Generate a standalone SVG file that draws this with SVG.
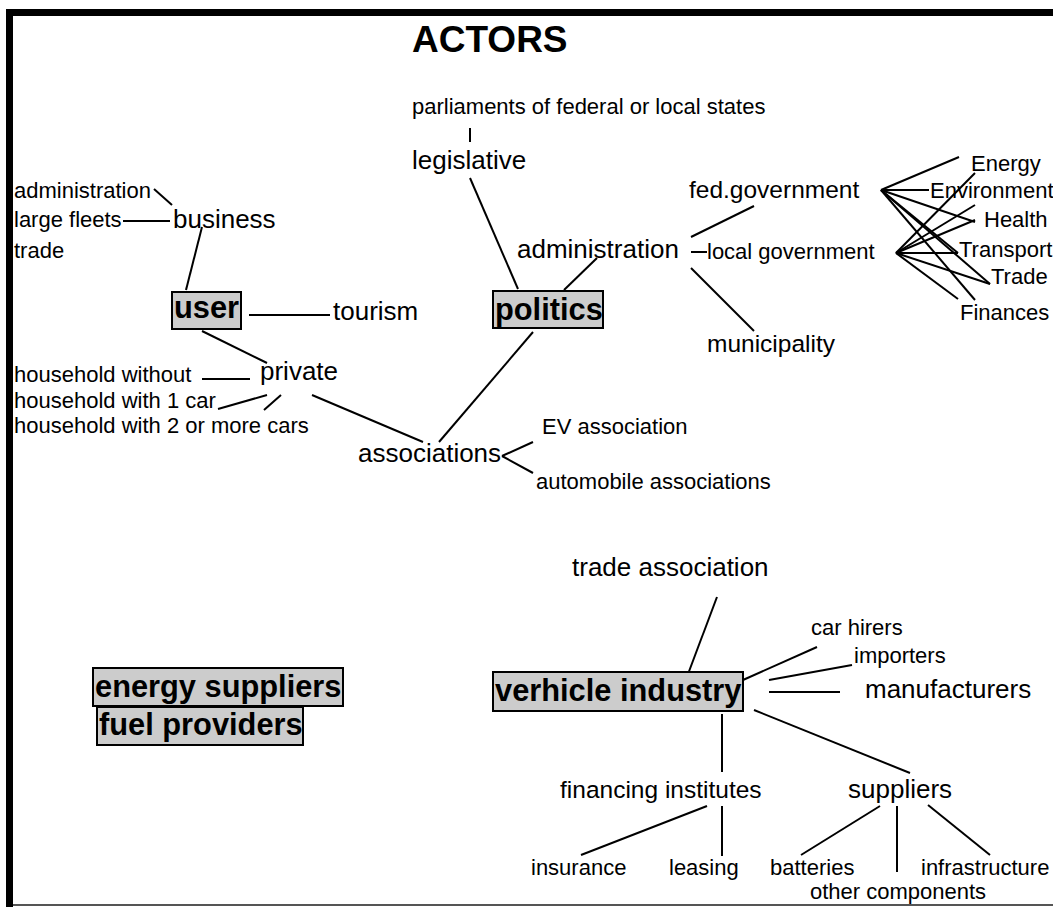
<svg xmlns="http://www.w3.org/2000/svg" width="1053" height="907" viewBox="0 0 1053 907">
<style>
text{font-family:"Liberation Sans",Arial,sans-serif;fill:#000}
.s{font-size:22px}
.m{font-size:26px}
.n{font-size:24.5px}
.b{font-size:30.8px;font-weight:bold}
.t{font-size:37px;font-weight:bold}
.box{fill:#cccccc;stroke:#000;stroke-width:2}
#connectors line{stroke:#000;stroke-width:2;fill:none}
</style>
<rect x="0" y="0" width="1053" height="907" fill="#fff"/>
<g id="frame">
<rect x="6" y="9" width="1047" height="7" fill="#000"/>
<rect x="6" y="9" width="7" height="898" fill="#000"/>
<line x1="13" y1="905" x2="1053" y2="905" stroke="#555" stroke-width="2"/>
</g>
<g id="connectors">
<line x1="154" y1="189" x2="172" y2="205"/>
<line x1="123" y1="221" x2="170" y2="221"/>
<line x1="202" y1="227" x2="186" y2="290"/>
<line x1="249" y1="315" x2="330" y2="315"/>
<line x1="202" y1="331" x2="267" y2="363"/>
<line x1="202" y1="379" x2="250" y2="379"/>
<line x1="218" y1="409" x2="267" y2="395"/>
<line x1="264" y1="410" x2="281" y2="395"/>
<line x1="312" y1="395" x2="423" y2="442"/>
<line x1="533" y1="332" x2="439" y2="442"/>
<line x1="502" y1="456" x2="533" y2="442"/>
<line x1="502" y1="456" x2="533" y2="473"/>
<line x1="470" y1="128" x2="470" y2="142"/>
<line x1="470" y1="178" x2="518" y2="289"/>
<line x1="597" y1="258" x2="564" y2="290"/>
<line x1="691" y1="237" x2="754" y2="206"/>
<line x1="691" y1="252" x2="707" y2="252"/>
<line x1="691" y1="268" x2="754" y2="331"/>
<line x1="881" y1="190" x2="959" y2="157"/>
<line x1="881" y1="190" x2="929" y2="190"/>
<line x1="881" y1="190" x2="975" y2="222"/>
<line x1="881" y1="190" x2="958" y2="253"/>
<line x1="881" y1="190" x2="990" y2="284"/>
<line x1="881" y1="190" x2="975" y2="300"/>
<line x1="896" y1="253" x2="975" y2="173"/>
<line x1="896" y1="253" x2="975" y2="205"/>
<line x1="896" y1="253" x2="975" y2="220"/>
<line x1="896" y1="253" x2="958" y2="253"/>
<line x1="896" y1="253" x2="990" y2="284"/>
<line x1="896" y1="253" x2="958" y2="299"/>
<line x1="717" y1="597" x2="688" y2="674"/>
<line x1="743" y1="680" x2="817" y2="647"/>
<line x1="769" y1="680" x2="852" y2="665"/>
<line x1="769" y1="692" x2="840" y2="692"/>
<line x1="722" y1="714" x2="722" y2="772"/>
<line x1="754" y1="710" x2="910" y2="773"/>
<line x1="707" y1="806" x2="581" y2="855"/>
<line x1="722" y1="806" x2="722" y2="856"/>
<line x1="880" y1="806" x2="801" y2="855"/>
<line x1="897" y1="806" x2="897" y2="872"/>
<line x1="928" y1="805" x2="990" y2="855"/>
</g>
<g id="title"><text class="t" x="412" y="52">ACTORS</text></g>
<g id="n-user-admin"><text class="s" x="14" y="198">administration</text></g>
<g id="n-large-fleets"><text class="s" x="14" y="227">large fleets</text></g>
<g id="n-trade-left"><text class="s" x="14" y="258">trade</text></g>
<g id="n-business"><text class="m" x="173" y="228">business</text></g>
<g id="n-user"><rect class="box" x="172" y="292" width="69" height="37"/><text class="b" x="174" y="318">user</text></g>
<g id="n-tourism"><text class="m" x="333" y="320">tourism</text></g>
<g id="n-private"><text class="m" x="260" y="380">private</text></g>
<g id="n-hh-without"><text class="s" x="14" y="382">household without</text></g>
<g id="n-hh-1"><text class="s" x="14" y="408">household with 1 car</text></g>
<g id="n-hh-2"><text class="s" x="14" y="433">household with 2 or more cars</text></g>
<g id="n-associations"><text class="m" x="358" y="462">associations</text></g>
<g id="n-ev"><text class="s" x="542" y="434">EV association</text></g>
<g id="n-auto"><text class="s" x="536" y="489">automobile associations</text></g>
<g id="n-parliaments"><text class="s" x="412" y="114">parliaments of federal or local states</text></g>
<g id="n-legislative"><text class="m" x="412" y="169">legislative</text></g>
<g id="n-administration"><text class="m" x="517" y="258">administration</text></g>
<g id="n-politics"><rect class="box" x="493" y="291" width="110" height="37"/><text class="b" x="495" y="320">politics</text></g>
<g id="n-fed"><text class="n" x="689" y="198">fed.government</text></g>
<g id="n-local"><text class="s" x="707" y="259">local government</text></g>
<g id="n-municipality"><text class="n" x="707" y="352">municipality</text></g>
<g id="n-energy"><text class="s" x="971" y="171">Energy</text></g>
<g id="n-environment"><text class="s" x="930" y="198">Environment</text></g>
<g id="n-health"><text class="s" x="984" y="227">Health</text></g>
<g id="n-transport"><text class="s" x="959" y="257">Transport</text></g>
<g id="n-trade"><text class="s" x="991" y="284">Trade</text></g>
<g id="n-finances"><text class="s" x="960" y="320">Finances</text></g>
<g id="n-trade-assoc"><text class="m" x="572" y="576">trade association</text></g>
<g id="n-car-hirers"><text class="s" x="811" y="635">car hirers</text></g>
<g id="n-importers"><text class="s" x="854" y="663">importers</text></g>
<g id="n-manufacturers"><text class="m" x="865" y="698">manufacturers</text></g>
<g id="n-vehicle"><rect class="box" x="493" y="672" width="250" height="39"/><text class="b" x="495" y="701">verhicle industry</text></g>
<g id="n-energy-suppliers"><rect class="box" x="93" y="668" width="250" height="38"/><text class="b" x="95" y="697">energy suppliers</text></g>
<g id="n-fuel"><rect class="box" x="97" y="707" width="206" height="38"/><text class="b" x="99" y="735">fuel providers</text></g>
<g id="n-financing"><text class="n" x="560" y="798">financing institutes</text></g>
<g id="n-suppliers"><text class="m" x="848" y="798">suppliers</text></g>
<g id="n-insurance"><text class="s" x="531" y="875">insurance</text></g>
<g id="n-leasing"><text class="s" x="669" y="875">leasing</text></g>
<g id="n-batteries"><text class="s" x="770" y="875">batteries</text></g>
<g id="n-infrastructure"><text class="s" x="921" y="875">infrastructure</text></g>
<g id="n-other"><text class="s" x="810" y="899">other components</text></g>
</svg>
